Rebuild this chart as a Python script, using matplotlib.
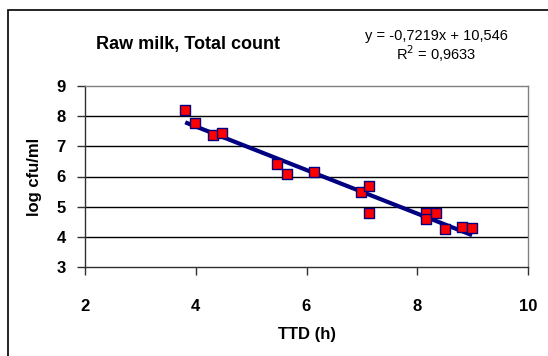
import matplotlib
matplotlib.use("Agg")
import matplotlib.pyplot as plt
from matplotlib.patches import Rectangle
import numpy as np

plt.rcParams['font.family'] = ['Liberation Sans', 'DejaVu Sans']

# Data
ttd = [3.81, 3.99, 4.32, 4.48, 5.46, 5.64, 6.14, 6.98, 7.13, 7.13,
       8.15, 8.15, 8.33, 8.50, 8.81, 8.99]
log_cfu = [8.22, 7.76, 7.37, 7.43, 6.41, 6.08, 6.16, 5.49, 5.69, 4.80,
           4.78, 4.59, 4.78, 4.25, 4.31, 4.28]
slope = -0.7219
intercept = 10.546
r2 = 0.9633
x_ticks = [2, 4, 6, 8, 10]
y_ticks = [3, 4, 5, 6, 7, 8, 9]

W, H = 548, 356
fig = plt.figure(figsize=(W / 100, H / 100), dpi=100)
fig.patch.set_facecolor('white')

def fx(px):
    return px / W

def fy(py):
    return 1 - py / H

ax = fig.add_axes([fx(85), fy(267), fx(528) - fx(85), fy(86) - fy(267)])

ax.set_xlim(2, 10)
ax.set_ylim(3, 9)
ax.set_xticks(x_ticks)
ax.set_yticks(y_ticks)

for yv in y_ticks[1:-1]:
    ax.axhline(yv, color='black', lw=1.0, zorder=1)

xs = np.array([min(ttd), max(ttd)])
ax.plot(xs, slope * xs + intercept, color='#000080', lw=3, zorder=3,
        solid_capstyle='butt')
ax.scatter(ttd, log_cfu, marker='s', s=62, facecolor='#FF0000',
           edgecolor='#000080', linewidths=1.0, zorder=4)

for side in ['top', 'right']:
    ax.spines[side].set_color('#808080')
    ax.spines[side].set_linewidth(1.0)
for side in ['left', 'bottom']:
    ax.spines[side].set_color('#303030')
    ax.spines[side].set_linewidth(1.0)

ax.tick_params(axis='y', direction='out', length=6, width=1, color='#303030',
               pad=8, labelsize=12)
ax.tick_params(axis='x', direction='out', length=6, width=1, color='#303030',
               pad=17, labelsize=12)
for lab in ax.get_xticklabels() + ax.get_yticklabels():
    lab.set_fontweight('bold')

fig.text(fx(306.5), fy(335), 'TTD (h)', ha='center', va='center',
         fontsize=12, fontweight='bold')
fig.text(fx(35), fy(176.5), 'log cfu/ml', ha='center', va='center',
         rotation=90, fontsize=12, fontweight='bold')

fig.text(fx(188.5), fy(45), 'Raw milk, Total count', ha='center', va='center',
         fontsize=13, fontweight='bold')

eq = 'y = {:.4f}x + {:.3f}'.format(slope, intercept).replace('.', ',')
fig.text(fx(436), fy(36), eq, ha='center', va='center', fontsize=10.5)
fig.text(fx(436), fy(54), r'R$^2$ = ' + '{:.4f}'.format(r2).replace('.', ','),
         ha='center', va='center', fontsize=10.5)

fig.patches.append(Rectangle((fx(7.5), -0.2), 1.2, fy(10) + 0.2,
                             transform=fig.transFigure, fill=False,
                             edgecolor='black', lw=1.2))

fig.savefig('out.png', dpi=100, facecolor='white')
